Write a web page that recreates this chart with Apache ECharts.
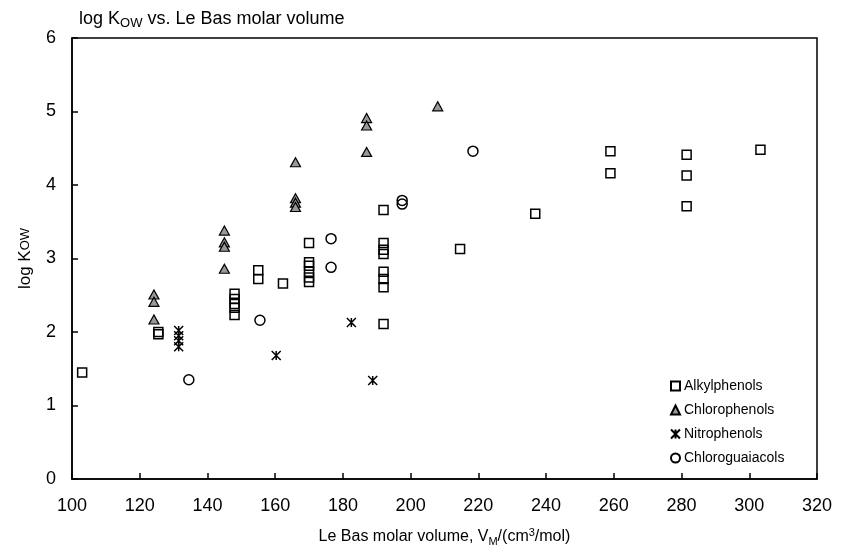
<!DOCTYPE html>
<html><head><meta charset="utf-8">
<script src="https://cdn.jsdelivr.net/npm/echarts@6/dist/echarts.min.js"></script>
<style>html,body{margin:0;padding:0;background:#fff}#c{width:841px;height:560px}</style>
</head><body><div id="c"></div>
<script>
// Data: [Le Bas molar volume, log Kow]
const alkylX = [103, 125.5, 125.5, 148, 148, 148, 148, 148, 155, 155, 162.3, 170, 170, 170, 170, 170, 170, 192, 192, 192, 192, 192, 192, 192, 192, 214.6, 236.8, 259, 259, 281.5, 281.5, 281.5, 303.3];
const alkylY = [1.45, 1.97, 2.0, 2.52, 2.45, 2.38, 2.33, 2.23, 2.84, 2.72, 2.66, 3.21, 2.95, 2.90, 2.82, 2.74, 2.68, 3.66, 3.21, 3.12, 3.06, 2.82, 2.72, 2.61, 2.11, 3.13, 3.61, 4.46, 4.16, 4.41, 4.13, 3.71, 4.48];
const chloroX = [124.2, 124.2, 124.2, 145, 145, 145, 145, 166, 166, 166, 166, 187, 187, 187, 208];
const chloroY = [2.51, 2.41, 2.17, 3.38, 3.22, 3.16, 2.86, 4.31, 3.82, 3.76, 3.70, 4.91, 4.81, 4.45, 5.07];
const nitroX = [131.5, 131.5, 131.5, 131.5, 160.3, 182.5, 188.8];
const nitroY = [2.02, 1.95, 1.88, 1.80, 1.68, 2.13, 1.34];
const guaiX = [134.5, 155.5, 176.5, 176.5, 197.5, 197.5, 218.4];
const guaiY = [1.35, 2.16, 3.27, 2.88, 3.79, 3.74, 4.46];
const seriesNames = ['Alkylphenols', 'Chlorophenols', 'Nitrophenols', 'Chloroguaiacols'];
const xTicks = {min: 100, max: 320, step: 20};
const yTicks = {min: 0, max: 6, step: 1};

const zip = (a, b) => a.map((v, i) => [v, b[i]]);
const FONT = 'Liberation Sans, Arial, sans-serif';
const star = 'path://M0,0L10,10M10,0L0,10M5,0L5,10';

const chart = echarts.init(document.getElementById('c'), null, {renderer: 'canvas'});
chart.setOption({
  backgroundColor: '#fff',
  animation: false,
  textStyle: {fontFamily: FONT, color: '#000'},
  title: {
    text: '{n|log K}{s|OW}{n| vs. Le Bas molar volume}',
    left: 74, top: 3,
    textStyle: {
      rich: {
        n: {fontFamily: FONT, fontSize: 18, color: '#000', fontWeight: 'normal'},
        s: {fontFamily: FONT, fontSize: 13, color: '#000', fontWeight: 'normal', verticalAlign: 'bottom', padding: [9, 0, 0, 0]}
      }
    }
  },
  grid: {left: 72, right: 24, top: 38, bottom: 81, show: true, borderColor: '#000', borderWidth: 1.5, containLabel: false},
  legend: {
    orient: 'vertical', left: 665, top: 374,
    itemWidth: 9, itemHeight: 9, itemGap: 10,
    textStyle: {fontFamily: FONT, fontSize: 14, color: '#000', padding: [0, 0, 0, -1]},
    data: seriesNames
  },
  xAxis: {
    type: 'value', min: xTicks.min, max: xTicks.max, interval: xTicks.step,
    name: '{n|Le Bas molar volume, V}{s|M}{n|/(cm}{p|3}{n|/mol)}',
    nameLocation: 'middle', nameGap: 48,
    nameTextStyle: {
      rich: {
        n: {fontFamily: FONT, fontSize: 16, color: '#000'},
        s: {fontFamily: FONT, fontSize: 11, color: '#000', verticalAlign: 'bottom', padding: [9, 0, 0, 0]},
        p: {fontFamily: FONT, fontSize: 11, color: '#000', verticalAlign: 'top', padding: [0, 0, 9, 0]}
      }
    },
    splitLine: {show: false},
    axisLine: {lineStyle: {color: '#000', width: 1.5}},
    axisTick: {inside: true, length: 6, lineStyle: {color: '#000', width: 1.5}},
    axisLabel: {fontFamily: FONT, fontSize: 18, color: '#000', margin: 18}
  },
  yAxis: {
    type: 'value', min: yTicks.min, max: yTicks.max, interval: yTicks.step,
    name: '{n|log K}{s|OW}',
    nameLocation: 'middle', nameGap: 38, nameRotate: 90,
    nameTextStyle: {
      rich: {
        n: {fontFamily: FONT, fontSize: 17, color: '#000'},
        s: {fontFamily: FONT, fontSize: 13, color: '#000'}
      }
    },
    splitLine: {show: false},
    axisLine: {lineStyle: {color: '#000', width: 1.5}},
    axisTick: {inside: true, length: 6, lineStyle: {color: '#000', width: 1.5}},
    axisLabel: {fontFamily: FONT, fontSize: 18, color: '#000', margin: 16}
  },
  series: [
    {name: seriesNames[0], type: 'scatter', symbol: 'rect', symbolSize: 9,
     itemStyle: {color: 'rgba(255,255,255,0)', borderColor: '#000', borderWidth: 1.5, opacity: 1},
     data: zip(alkylX, alkylY)},
    {name: seriesNames[1], type: 'scatter', symbol: 'triangle', symbolSize: [10, 9],
     itemStyle: {color: '#999', borderColor: '#000', borderWidth: 1.2, opacity: 1},
     data: zip(chloroX, chloroY)},
    {name: seriesNames[2], type: 'scatter', symbol: star, symbolSize: 9,
     itemStyle: {color: 'rgba(0,0,0,0)', borderColor: '#000', borderWidth: 1.5, opacity: 1},
     data: zip(nitroX, nitroY)},
    {name: seriesNames[3], type: 'scatter', symbol: 'circle', symbolSize: 10,
     itemStyle: {color: 'rgba(255,255,255,0)', borderColor: '#000', borderWidth: 1.5, opacity: 1},
     data: zip(guaiX, guaiY)}
  ]
});
</script></body></html>
